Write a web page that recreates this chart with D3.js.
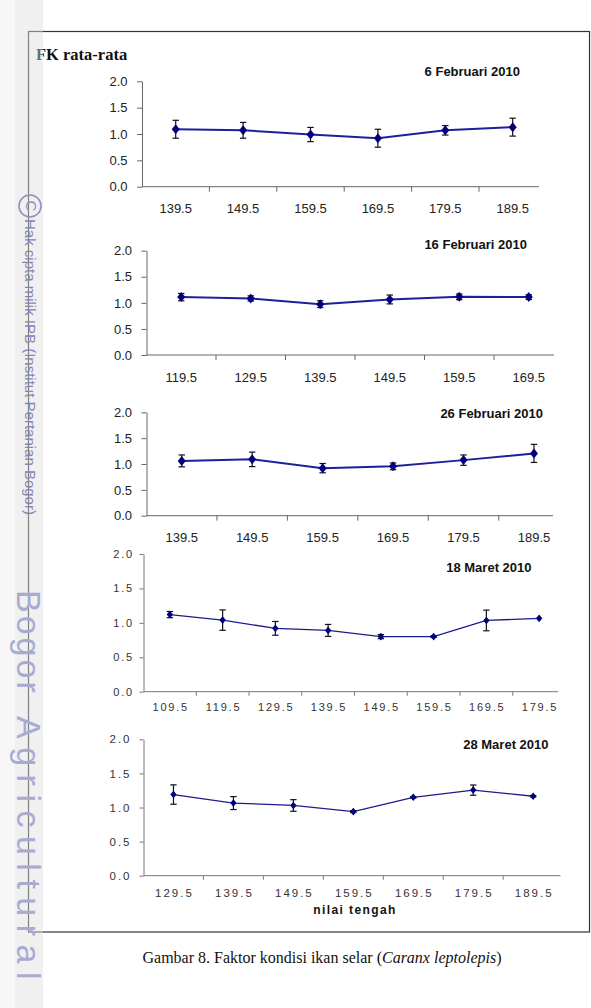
<!DOCTYPE html>
<html><head><meta charset="utf-8">
<script src="https://cdn.jsdelivr.net/npm/d3@7"></script>
<style>body{margin:0;background:#fff}svg{display:block}</style>
</head><body><script>
// ---------- data ----------
const yTicks = [0.0, 0.5, 1.0, 1.5, 2.0];
const titles = ["6 Februari 2010", "16 Februari 2010", "26 Februari 2010", "18 Maret 2010", "28 Maret 2010"];

const cats1 = ["139.5", "149.5", "159.5", "169.5", "179.5", "189.5"];
const fk1   = [1.09, 1.07, 0.99, 0.92, 1.07, 1.13];
const err1  = [0.17, 0.15, 0.135, 0.17, 0.09, 0.17];

const cats2 = ["119.5", "129.5", "139.5", "149.5", "159.5", "169.5"];
const fk2   = [1.11, 1.085, 0.975, 1.065, 1.115, 1.11];
const err2  = [0.07, 0.05, 0.065, 0.085, 0.055, 0.045];

const cats3 = ["139.5", "149.5", "159.5", "169.5", "179.5", "189.5"];
const fk3   = [1.06, 1.09, 0.92, 0.955, 1.075, 1.205];
const err3  = [0.115, 0.14, 0.09, 0.065, 0.10, 0.175];

const cats4 = ["109.5", "119.5", "129.5", "139.5", "149.5", "159.5", "169.5", "179.5"];
const fk4   = [1.12, 1.04, 0.92, 0.89, 0.80, 0.80, 1.035, 1.065];
const err4  = [0.045, 0.148, 0.10, 0.087, 0.03, 0.012, 0.15, 0];

const cats5 = ["129.5", "139.5", "149.5", "159.5", "169.5", "179.5", "189.5"];
const fk5   = [1.19, 1.065, 1.03, 0.94, 1.15, 1.255, 1.165];
const err5  = [0.142, 0.095, 0.085, 0.015, 0.01, 0.075, 0.01];

const yLabel = "FK rata-rata";
const xLabel = "nilai tengah";
const caption = ["Gambar 8. Faktor kondisi ikan selar (", "Caranx leptolepis", ")"];

const series = [
  {cats: cats1, fk: fk1, err: err1},
  {cats: cats2, fk: fk2, err: err2},
  {cats: cats3, fk: fk3, err: err3},
  {cats: cats4, fk: fk4, err: err4},
  {cats: cats5, fk: fk5, err: err5}
];

// ---------- layout (positions & styles) ----------
const styleA = {font: 13, ls: 0, fill: "#222", axis: "#666", line: "#1f1f9c", lw: 2, mw: 4, mh: 5, tick: 5};
const styleB4 = {font: 11, ls: 1.8, fill: "#333", axis: "#777", line: "#1c1c90", lw: 1.3, mw: 3.2, mh: 3.8, tick: 4};
const styleB5 = {font: 11.5, ls: 2, fill: "#333", axis: "#777", line: "#1c1c90", lw: 1.3, mw: 3.2, mh: 3.8, tick: 4};
const layout = [
  {x0: 142, step: 67.4, axisEnd: 539, y0: 186.7, y2: 81.3, tX: 520, tY: 76, pad: 9.5, lDy: 26.5, st: styleA},
  {x0: 146.5, step: 69.5, axisEnd: 554, y0: 355, y2: 250.7, tX: 527, tY: 249, pad: 9.5, lDy: 26.5, st: styleA},
  {x0: 146.5, step: 70.45, axisEnd: 553, y0: 515.7, y2: 412.3, tX: 543, tY: 418, pad: 9.5, lDy: 26.5, st: styleA},
  {x0: 143.5, step: 52.75, axisEnd: 558, y0: 691.7, y2: 554, tX: 531.5, tY: 571.5, pad: 5.5, lDy: 19, st: styleB4},
  {x0: 143.5, step: 59.95, axisEnd: 560.5, y0: 875.7, y2: 739.3, tX: 548.5, tY: 749, pad: 8, lDy: 21.6, st: styleB5}
];

const W = 591, H = 1008;
const svg = d3.select("body").append("svg").attr("width", W).attr("height", H)
  .style("font-family", "'Liberation Sans', Arial, sans-serif");
svg.append("rect").attr("width", W).attr("height", H).attr("fill", "#fff");
svg.append("rect").attr("x", 0).attr("y", 0).attr("width", 15).attr("height", H).attr("fill", "#f7f7f7");

// outer frame
svg.append("rect").attr("x", 28.5).attr("y", 31.5).attr("width", 561).attr("height", 900.5)
  .attr("fill", "none").attr("stroke", "#333").attr("stroke-width", 1.2);

svg.append("text").attr("x", 36).attr("y", 59.5)
  .style("font-family", "'Liberation Serif', 'Times New Roman', serif")
  .style("font-weight", "bold").style("font-size", "16.5px").attr("fill", "#111").text(yLabel);

const fmt = d3.format(".1f");

series.forEach((s, i) => {
  const L = layout[i], st = L.st;
  const g = svg.append("g");
  const x = d3.scaleBand().domain(s.cats).range([L.x0, L.x0 + s.cats.length * L.step]).padding(0);
  const y = d3.scaleLinear().domain([0, 2]).range([L.y0, L.y2]);
  const bw = x.bandwidth();
  const cx = c => x(c) + bw / 2;

  // y axis
  const ya = g.append("g").attr("transform", `translate(${L.x0},0)`)
    .call(d3.axisLeft(y).tickValues(yTicks).tickFormat(fmt).tickSize(st.tick).tickSizeOuter(0).tickPadding(L.pad));
  ya.select(".domain").attr("stroke", st.axis).attr("stroke-width", 1);
  ya.selectAll(".tick line").attr("stroke", st.axis);
  ya.selectAll(".tick text").attr("fill", st.fill).style("font-size", st.font + "px")
    .style("letter-spacing", st.ls + "px").style("font-family", "'Liberation Sans', Arial, sans-serif");

  // x axis line
  g.append("line").attr("x1", L.x0).attr("x2", L.axisEnd).attr("y1", L.y0).attr("y2", L.y0)
    .attr("stroke", st.axis).attr("stroke-width", 1);
  g.selectAll(".xt").data(s.cats.slice(1)).join("line").attr("class", "xt")
    .attr("x1", d => x(d)).attr("x2", d => x(d)).attr("y1", L.y0).attr("y2", L.y0 + st.tick)
    .attr("stroke", st.axis);
  g.selectAll(".xl").data(s.cats).join("text").attr("class", "xl")
    .attr("x", d => cx(d) + st.ls / 2).attr("y", L.y0 + L.lDy).attr("text-anchor", "middle")
    .attr("fill", st.fill).style("font-size", st.font + "px").style("letter-spacing", st.ls + "px")
    .text(d => d);

  // title
  g.append("text").attr("x", L.tX).attr("y", L.tY).attr("text-anchor", "end")
    .style("font-weight", "bold").style("font-size", "13px").attr("fill", "#111").text(titles[i]);

  const pts = s.cats.map((c, j) => ({c, v: s.fk[j], e: s.err[j]}));
  // line
  g.append("path").datum(pts)
    .attr("d", d3.line().x(d => cx(d.c)).y(d => y(d.v)))
    .attr("fill", "none").attr("stroke", st.line).attr("stroke-width", st.lw);
  // error bars
  const eb = g.selectAll(".eb").data(pts.filter(d => d.e > 0)).join("g").attr("class", "eb")
    .attr("stroke", "#111").attr("stroke-width", 1.2);
  eb.append("line").attr("x1", d => cx(d.c)).attr("x2", d => cx(d.c))
    .attr("y1", d => y(d.v - d.e)).attr("y2", d => y(d.v + d.e));
  eb.append("line").attr("x1", d => cx(d.c) - 3.2).attr("x2", d => cx(d.c) + 3.2)
    .attr("y1", d => y(d.v + d.e)).attr("y2", d => y(d.v + d.e));
  eb.append("line").attr("x1", d => cx(d.c) - 3.2).attr("x2", d => cx(d.c) + 3.2)
    .attr("y1", d => y(d.v - d.e)).attr("y2", d => y(d.v - d.e));
  // markers
  g.selectAll(".mk").data(pts).join("path").attr("class", "mk")
    .attr("d", d => {
      const px = cx(d.c), py = y(d.v);
      return `M${px},${py - st.mh}L${px + st.mw},${py}L${px},${py + st.mh}L${px - st.mw},${py}Z`;
    })
    .attr("fill", "#00007a");

  if (i === series.length - 1) {
    g.append("text").attr("x", 355).attr("y", 914).attr("text-anchor", "middle")
      .style("font-weight", "bold").style("font-size", "12px").style("letter-spacing", "1.4px")
      .attr("fill", "#111").text(xLabel);
  }
});

// caption
const cap = svg.append("text").attr("x", 322).attr("y", 963).attr("text-anchor", "middle")
  .style("font-family", "'Liberation Serif', 'Times New Roman', serif").style("font-size", "16px").attr("fill", "#111");
cap.append("tspan").text(caption[0]);
cap.append("tspan").style("font-style", "italic").text(caption[1]);
cap.append("tspan").text(caption[2]);

// watermark strip
svg.append("rect").attr("x", 15).attr("y", 0).attr("width", 28).attr("height", H)
  .attr("fill", "rgb(222,222,222)").attr("fill-opacity", 0.45);
svg.append("circle").attr("cx", 30).attr("cy", 206).attr("r", 11)
  .attr("fill", "none").attr("stroke", "#9090c0").attr("stroke-width", 1.6);
svg.append("text").attr("transform", "translate(25.5,206) rotate(90)").attr("text-anchor", "middle")
  .style("font-size", "15px").attr("fill", "#9090c0").text("C");
svg.append("text").attr("transform", "translate(25,219) rotate(90)")
  .style("font-size", "15px").attr("fill", "#8585b5").text("Hak cipta milik IPB (Institut Pertanian Bogor)");
svg.append("text").attr("transform", "translate(17,590) rotate(90)")
  .style("font-size", "34px").style("letter-spacing", "3px").attr("fill", "#a8abd0")
  .text("Bogor");
svg.append("text").attr("transform", "translate(17,716) rotate(90)")
  .style("font-size", "34px").style("letter-spacing", "8.5px").attr("fill", "#a8abd0")
  .text("Agricultural");
</script></body></html>
